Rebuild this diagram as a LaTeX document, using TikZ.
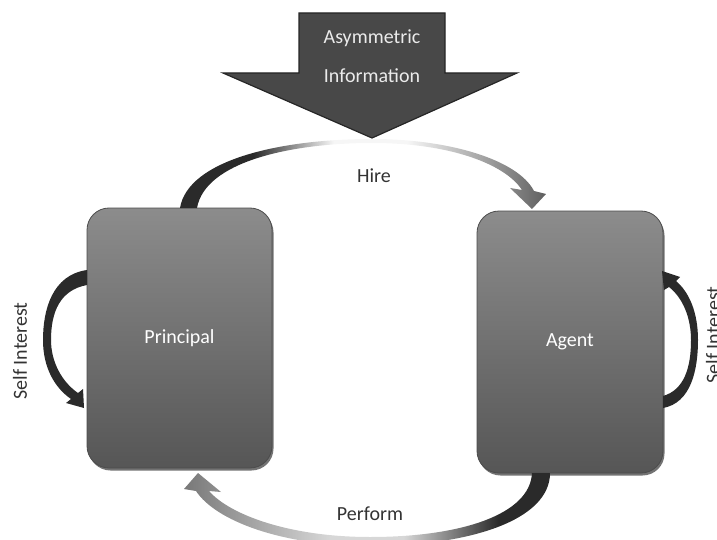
\documentclass[tikz,border=0pt]{standalone}
\usepackage{fontspec}
\setmainfont{Carlito}
\usetikzlibrary{shadows}
\definecolor{boxtop}{RGB}{140,140,140}
\definecolor{boxbot}{RGB}{86,86,86}
\definecolor{arrowfill}{RGB}{72,72,72}
\definecolor{arrowline}{RGB}{38,38,38}
\definecolor{darkband}{RGB}{42,42,42}
\definecolor{lightband}{RGB}{246,246,246}
\definecolor{midband}{RGB}{95,95,95}
\definecolor{grayband}{RGB}{120,120,120}
\definecolor{paleband}{RGB}{215,215,215}
\pgfdeclarehorizontalshading{hireshade}{100bp}{color(0bp)=(darkband); color(25bp)=(darkband); color(35bp)=(darkband); color(46bp)=(lightband); color(56bp)=(lightband); color(75bp)=(midband); color(100bp)=(midband)}
\pgfdeclarehorizontalshading{perfshade}{100bp}{color(0bp)=(grayband); color(25bp)=(grayband); color(45bp)=(paleband); color(55bp)=(paleband); color(68bp)=(darkband); color(75bp)=(darkband); color(100bp)=(darkband)}
\begin{document}
\begin{tikzpicture}[x=1pt,y=-1pt]
\tikzset{
  txt/.style={font=\fontsize{20}{24}\selectfont},
  box/.style={txt, rounded corners=22pt, minimum width=185pt, minimum height=260pt,
    top color=boxtop, bottom color=boxbot, draw=black!70, line width=0.8pt, text=white,
    drop shadow={shadow xshift=1.5pt, shadow yshift=-2.5pt, fill=black, opacity=0.55}},
  lbl/.style={txt, text=black!80},
  bigarrow/.style={fill=arrowfill, draw=arrowline, line width=1.2pt},
  loopband/.style={fill=darkband},
}
\useasboundingbox (0,0) rectangle (717,540);
% boxes
\node[box] (P) at (179.5,338) {Principal};
\node[box, minimum width=186pt, minimum height=262pt] (A) at (570,342) {Agent};
% big arrow
\path[bigarrow] (299,13) -- (445,13) -- (445,73) -- (517,73) -- (372,138) -- (223,73) -- (299,73) -- cycle;
\node[txt, text=white!92!black] (asym) at (372,38) {Asymmetric};
\node[txt, text=white!92!black] (info) at (372,76) {Information};
% hire band
\path[shading=hireshade]
  (180,208) .. controls (188,160) and (280,139) .. (372,139)
  .. controls (450,139) and (518,160) .. (534,191)
  -- (546,194) -- (532,209) -- (510,188) -- (522,190)
  .. controls (505,164) and (450,143) .. (372,143)
  .. controls (290,143) and (205,162) .. (197,208) -- cycle;
\node[lbl] (hire) at (374,176) {Hire};
% perform band
\path[shading=perfshade]
  (532,473) -- (550,473) .. controls (550,520) and (470,546) .. (370,546)
  .. controls (280,546) and (215,520) .. (196,491)
  -- (184,489) -- (198,473) -- (221,492) -- (209,491)
  .. controls (230,515) and (290,537) .. (370,537)
  .. controls (460,537) and (530,515) .. (532,473) -- cycle;
\node[lbl] (perform) at (370,514) {Perform};
% left self-interest loop
\path[loopband]
  (87,270) .. controls (52,275) and (43,310) .. (43,340)
  .. controls (43,368) and (55,388) .. (71,399)
  -- (66,403) -- (84,408) -- (83,389) -- (78,393)
  .. controls (62,382) and (51,362) .. (51,340)
  .. controls (51,312) and (60,290) .. (87,285) -- cycle;
\node[lbl, rotate=90] (siL) at (20,351) {Self Interest};
% right self-interest loop
\path[loopband]
  (663,408) .. controls (691,403) and (698,370) .. (698,340)
  .. controls (698,312) and (689,292) .. (676,281)
  -- (680,277) -- (662,271) -- (664,290) -- (669,287)
  .. controls (683,298) and (691,318) .. (691,340)
  .. controls (691,368) and (684,390) .. (663,396) -- cycle;
\node[lbl, rotate=90] (siR) at (713,335) {Self Interest};
\end{tikzpicture}
\end{document}
